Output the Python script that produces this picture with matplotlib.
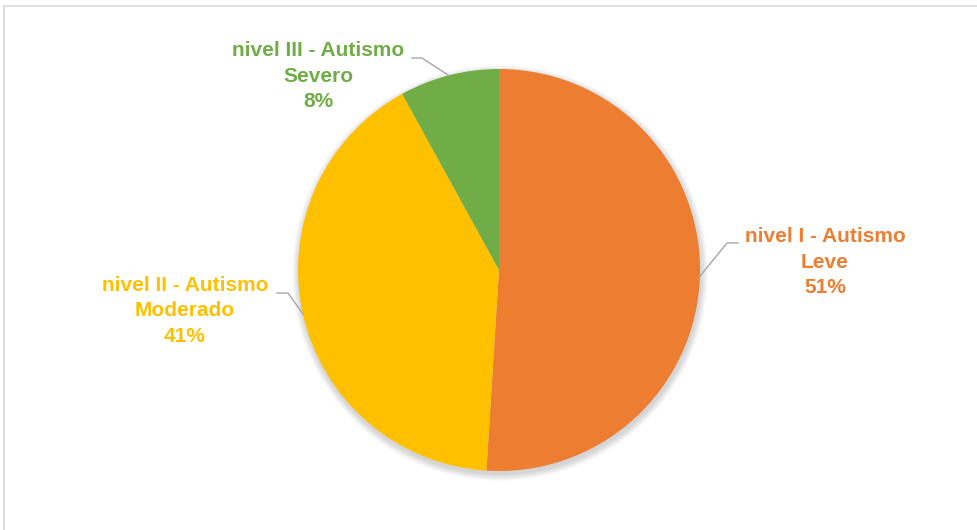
import numpy as np
import matplotlib.pyplot as plt
from matplotlib.patches import Circle

categorias = ['nivel I - Autismo\nLeve', 'nivel II - Autismo\nModerado', 'nivel III - Autismo\nSevero']
valores = [51, 41, 8]
cores = ['#ED7D31', '#FFC000', '#70AD47']

plt.rcParams['font.family'] = ['Liberation Sans', 'DejaVu Sans']

fig = plt.figure(figsize=(9.78, 5.30), dpi=100)
ax = fig.add_axes([0, 0, 1, 1])

cx, cy, r = 499, 260, 201

# sombra suave
for i in range(14):
    ax.add_patch(Circle((cx + 1, cy - 3), r + 7 - i * 0.5, color='k', alpha=0.01, lw=0, zorder=0))

wedges, _ = ax.pie(valores, colors=cores, startangle=90, counterclock=False,
                   center=(cx, cy), radius=r, wedgeprops=dict(linewidth=0))
for w in wedges:
    w.set_zorder(2)

ax.set_xlim(0, 978)
ax.set_ylim(0, 530)
ax.set_aspect('equal')
ax.axis('off')

# posicoes dos rotulos (centro do texto) e cotovelo da linha guia
rot_pos = [(825, 268), (185, 219), (318, 454)]
cotovelo = [(727, 287, 738), (288, 237, 277), (422, 472, 412)]
ang_ancora = [None, None, 104.5]

for w, cat, v, cor, pos, cot, ang in zip(wedges, categorias, valores, cores, rot_pos, cotovelo, ang_ancora):
    if ang is None:
        ang = (w.theta1 + w.theta2) / 2
    ax_ = cx + r * np.cos(np.radians(ang))
    ay_ = cy + r * np.sin(np.radians(ang))
    ax.plot([ax_, cot[0], cot[2]], [ay_, cot[1], cot[1]], color='#A6A6A6', lw=1, zorder=3)
    ax.text(pos[0], pos[1], f'{cat}\n{v}%', ha='center', va='center', color=cor,
            fontsize=15, fontweight='bold', linespacing=1.42, zorder=4)

# borda do grafico
ax.plot([4, 4], [0, 524], color='#D9D9D9', lw=1.2, zorder=1)
ax.plot([4, 978], [524, 524], color='#D9D9D9', lw=1.2, zorder=1)

fig.savefig('out.png', dpi=100)
